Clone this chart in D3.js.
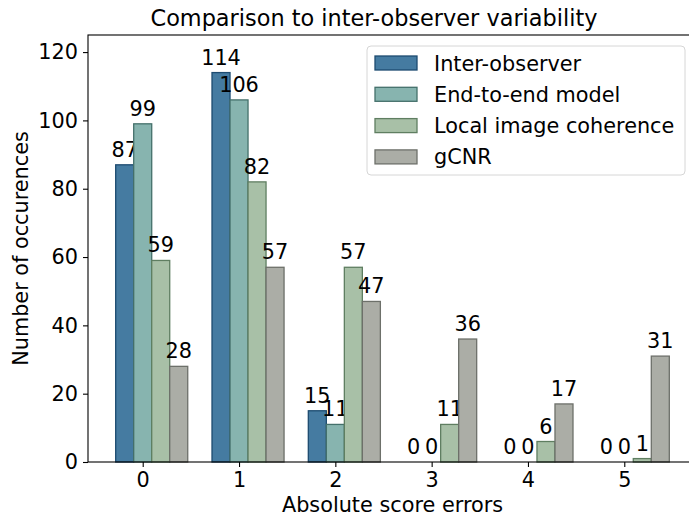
<!DOCTYPE html>
<html>
<head>
<meta charset="utf-8">
<script src="https://cdn.jsdelivr.net/npm/d3@7"></script>
<style>
body { margin: 0; background: #fff; }
text { font-family: "DejaVu Sans", sans-serif; fill: #000; }
</style>
</head>
<body>
<div id="chart"></div>
<script>
// data
var errors = [0, 1, 2, 3, 4, 5];
var seriesNames = ["Inter-observer", "End-to-end model", "Local image coherence", "gCNR"];
var interObserver = [87, 114, 15, 0, 0, 0];
var endToEnd = [99, 106, 11, 0, 0, 0];
var localCoherence = [59, 82, 57, 11, 6, 1];
var gcnr = [28, 57, 47, 36, 17, 31];
var yTicks = [0, 20, 40, 60, 80, 100, 120];

var fills = ["#457ba1", "#87b4af", "#a8c0a7", "#abada6"];
var strokes = ["#1d4b70", "#44706b", "#5f7e61", "#6d706a"];

var series = [interObserver, endToEnd, localCoherence, gcnr];
var barW = 0.187;
var fs = "20.8px";

var width = 689, height = 517;
var mLeft = 88, mRight = 697, mTop = 35, mBottom = 462;

var svg = d3.select("#chart").append("svg")
  .attr("width", width)
  .attr("height", height);

var x = d3.scaleLinear().domain([-0.568, 5.755]).range([mLeft, mRight]);
var y = d3.scaleLinear().domain([0, 125]).range([mBottom, mTop]);

// bars
series.forEach(function(vals, i) {
  var g = svg.append("g");
  g.selectAll("rect")
    .data(vals)
    .enter()
    .append("rect")
    .attr("x", function(d, j) { return x(errors[j] + (i - 1) * barW - barW / 2); })
    .attr("y", function(d) { return y(d); })
    .attr("width", x(barW) - x(0))
    .attr("height", function(d) { return y(0) - y(d); })
    .style("fill", fills[i])
    .style("stroke", strokes[i])
    .style("stroke-width", "1.3px");

  g.selectAll("text")
    .data(vals)
    .enter()
    .append("text")
    .attr("x", function(d, j) { return x(errors[j] + (i - 1) * barW); })
    .attr("y", function(d) { return y(d) - 8; })
    .attr("text-anchor", "middle")
    .style("font-size", fs)
    .text(function(d) { return d; });
});

// axes
var xAxis = d3.axisBottom(x).tickValues(errors).tickSize(5).tickPadding(5).tickFormat(d3.format("d"));
var yAxis = d3.axisLeft(y).tickValues(yTicks).tickSize(5).tickPadding(5);

var gx = svg.append("g").attr("transform", "translate(0," + mBottom + ")").call(xAxis);
var gy = svg.append("g").attr("transform", "translate(" + mLeft + ",0)").call(yAxis);
[gx, gy].forEach(function(g) {
  g.select(".domain").remove();
  g.selectAll("line").style("stroke", "#000").style("stroke-width", "1.1px");
  g.selectAll("text").style("font-size", fs).style("font-family", "DejaVu Sans");
});

// frame
svg.append("rect")
  .attr("x", mLeft).attr("y", mTop)
  .attr("width", mRight - mLeft).attr("height", mBottom - mTop)
  .style("fill", "none").style("stroke", "#000").style("stroke-width", "1.1px");

// labels
svg.append("text")
  .attr("x", 374).attr("y", 26)
  .attr("text-anchor", "middle")
  .style("font-size", "22.4px")
  .text("Comparison to inter-observer variability");

svg.append("text")
  .attr("x", (mLeft + mRight) / 2).attr("y", 512)
  .attr("text-anchor", "middle")
  .style("font-size", fs)
  .text("Absolute score errors");

svg.append("text")
  .attr("transform", "translate(28," + ((mTop + mBottom) / 2) + ") rotate(-90)")
  .attr("text-anchor", "middle")
  .style("font-size", fs)
  .text("Number of occurences");

// legend
var legend = svg.append("g");
legend.append("rect")
  .attr("x", 367).attr("y", 46)
  .attr("width", 318).attr("height", 129)
  .attr("rx", 4)
  .style("fill", "#fff").style("fill-opacity", 0.8)
  .style("stroke", "#d6d6d6").style("stroke-width", "1px");

seriesNames.forEach(function(name, i) {
  var cy = 63 + i * 31.3;
  legend.append("rect")
    .attr("x", 375).attr("y", cy - 7)
    .attr("width", 42).attr("height", 14)
    .style("fill", fills[i]).style("stroke", strokes[i]).style("stroke-width", "1.3px");
  legend.append("text")
    .attr("x", 434).attr("y", cy + 7.5)
    .style("font-size", fs)
    .text(name);
});
</script>
</body>
</html>
